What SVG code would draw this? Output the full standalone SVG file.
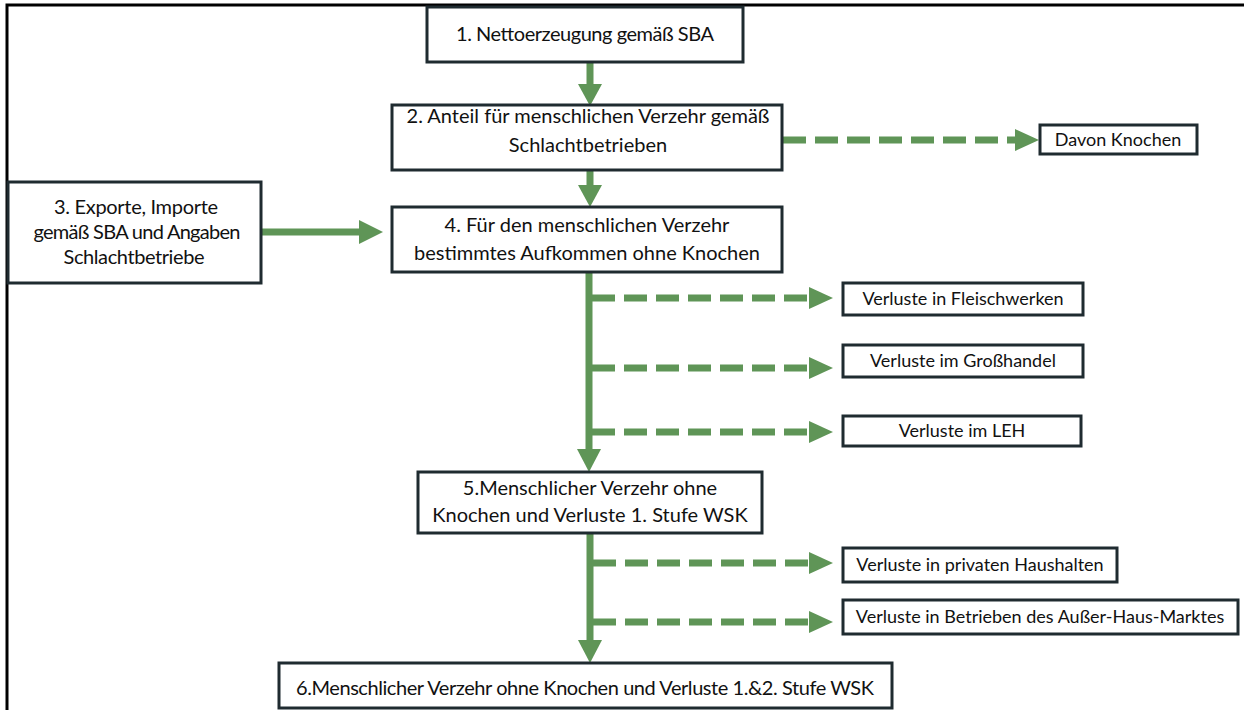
<svg xmlns="http://www.w3.org/2000/svg" width="1244" height="710" viewBox="0 0 1244 710">
<style>
.box{fill:#fff;stroke:#1f2b30;stroke-width:3}
.t{font-family:Lato,"Liberation Sans",sans-serif;font-size:20px;fill:#111;text-anchor:middle}
.s{font-family:Lato,"Liberation Sans",sans-serif;font-size:18px;fill:#111;text-anchor:middle}
.solid{stroke:#5f9557;stroke-width:7;fill:none}
.dash{stroke:#5f9557;stroke-width:7;fill:none;stroke-dasharray:23 9}
.head{fill:#5f9557}
</style>
<rect x="0" y="0" width="1244" height="710" fill="#fff"/>
<rect x="7" y="5" width="1260" height="730" fill="none" stroke="#000" stroke-width="3"/>
<g id="connectors">
<line class="solid" x1="590" y1="62" x2="590" y2="85"/>
<polygon class="head" points="578,84 602,84 590,106"/>
<line class="solid" x1="590" y1="170" x2="590" y2="186"/>
<polygon class="head" points="578,185 602,185 590,207"/>
<line class="dash" x1="783" y1="140" x2="1016" y2="140"/>
<polygon class="head" points="1015,129 1015,151 1039,140"/>
<line class="solid" x1="262" y1="232" x2="360" y2="232"/>
<polygon class="head" points="359,220 359,244 383,232"/>
<line class="solid" x1="589" y1="272" x2="589" y2="450"/>
<polygon class="head" points="577,449 601,449 589,472"/>
<line class="dash" x1="592" y1="298" x2="810" y2="298"/>
<polygon class="head" points="809,287 809,309 833,298"/>
<line class="dash" x1="592" y1="368" x2="810" y2="368"/>
<polygon class="head" points="809,357 809,379 833,368"/>
<line class="dash" x1="592" y1="432" x2="810" y2="432"/>
<polygon class="head" points="809,421 809,443 833,432"/>
<line class="solid" x1="590" y1="533" x2="590" y2="641"/>
<polygon class="head" points="578,640 602,640 590,663"/>
<line class="dash" x1="593" y1="563" x2="810" y2="563"/>
<polygon class="head" points="809,552 809,574 833,563"/>
<line class="dash" x1="593" y1="622" x2="810" y2="622"/>
<polygon class="head" points="809,611 809,633 833,622"/>
</g>
<g id="n1"><rect class="box" x="427" y="7" width="316" height="55"/><text class="t" x="585" y="41" textLength="258">1. Nettoerzeugung gemäß SBA</text></g>
<g id="n2"><rect class="box" x="392" y="105" width="390" height="65"/><text class="t" x="588" y="123">2. Anteil für menschlichen Verzehr gemäß</text><text class="t" x="588" y="152">Schlachtbetrieben</text></g>
<g id="nK"><rect class="box" x="1040" y="125" width="157" height="29"/><text class="s" x="1118" y="146">Davon Knochen</text></g>
<g id="n3"><rect class="box" x="8" y="182" width="253" height="101"/><text class="t" x="136" y="214" textLength="164">3. Exporte, Importe</text><text class="t" x="137" y="239" textLength="207">gemäß SBA und Angaben</text><text class="t" x="134" y="264" textLength="141">Schlachtbetriebe</text></g>
<g id="n4"><rect class="box" x="392" y="207" width="390" height="65"/><text class="t" x="587" y="232">4. Für den menschlichen Verzehr</text><text class="t" x="587" y="260">bestimmtes Aufkommen ohne Knochen</text></g>
<g id="nF"><rect class="box" x="843" y="283" width="240" height="32"/><text class="s" x="963" y="305">Verluste in Fleischwerken</text></g>
<g id="nG"><rect class="box" x="843" y="345" width="240" height="32"/><text class="s" x="963" y="367">Verluste im Großhandel</text></g>
<g id="nL"><rect class="box" x="843" y="416" width="238" height="30"/><text class="s" x="962" y="437">Verluste im LEH</text></g>
<g id="n5"><rect class="box" x="418" y="472" width="344" height="61"/><text class="t" x="590" y="495">5.Menschlicher Verzehr ohne</text><text class="t" x="590" y="522">Knochen und Verluste 1. Stufe WSK</text></g>
<g id="nP"><rect class="box" x="843" y="548" width="274" height="34"/><text class="s" x="980" y="571">Verluste in privaten Haushalten</text></g>
<g id="nA"><rect class="box" x="843" y="600" width="395" height="34"/><text class="s" x="1040" y="623">Verluste in Betrieben des Außer-Haus-Marktes</text></g>
<g id="n6"><rect class="box" x="279" y="663" width="613" height="45"/><text class="t" x="585" y="695" textLength="578">6.Menschlicher Verzehr ohne Knochen und Verluste 1.&amp;2. Stufe WSK</text></g>
</svg>
